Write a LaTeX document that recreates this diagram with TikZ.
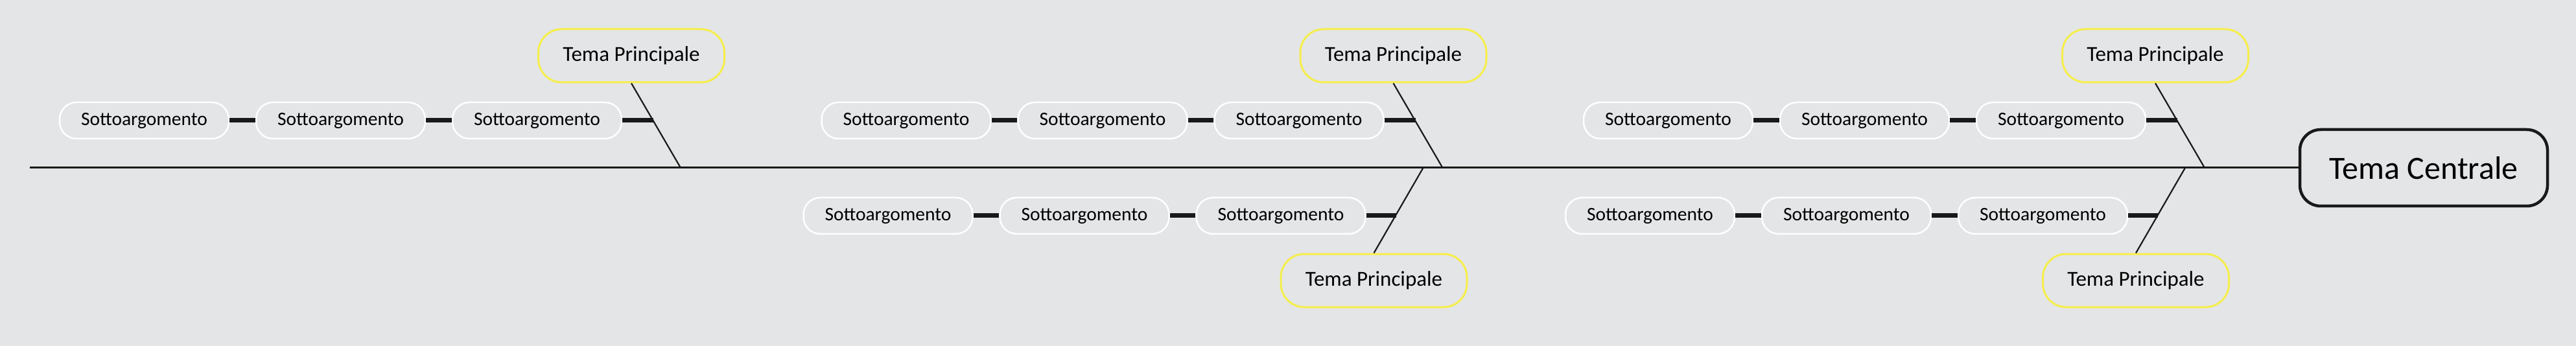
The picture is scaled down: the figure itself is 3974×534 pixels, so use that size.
\documentclass[tikz,border=0pt]{standalone}
\usepackage{fontspec}
\setmainfont{Carlito}
\definecolor{bg}{HTML}{E4E5E7}
\definecolor{yel}{HTML}{F5EE4A}
\begin{document}
\begin{tikzpicture}[x=1pt,y=-1pt,
  sub/.style={draw=white,line width=2.5pt,fill=bg,rounded corners=26pt,minimum width=261pt,minimum height=56pt,inner sep=0pt,font=\fontsize{29.5}{32}\selectfont},
  main/.style={draw=yel,line width=3pt,fill=bg,rounded corners=36pt,minimum width=287pt,minimum height=82pt,inner sep=0pt,font=\fontsize{33}{36}\selectfont},
  bone/.style={line width=2.2pt,black!90},
  link/.style={line width=7pt,black!90}]
\fill[bg] (0,0) rectangle (3974,534);
\node[draw=black!90,line width=4.5pt,fill=bg,rounded corners=32pt,minimum width=382pt,minimum height=118pt,inner sep=0pt,font=\fontsize{50}{54}\selectfont] (C) at (3739,259) {Tema Centrale};
\coordinate (S0) at (46,259);
\draw[line width=3pt,black!90] (S0) -- (C.west);
% top groups
\foreach \i/\sx in {1/1050,2/2225.5,3/3401}{
  \node[main] (T\i) at (\sx-76,86) {Tema Principale};
  \coordinate (TS\i) at (\sx,259);
  \coordinate (TJ\i) at (\sx-42,186);
  \draw[bone] (T\i.south) -- (TS\i);
  \node[sub] (Ta\i) at (\sx-827.5,186) {Sottoargomento};
  \node[sub] (Tb\i) at (\sx-524.5,186) {Sottoargomento};
  \node[sub] (Tc\i) at (\sx-221.5,186) {Sottoargomento};
  \draw[link] (Ta\i.east) -- (Tb\i.west);
  \draw[link] (Tb\i.east) -- (Tc\i.west);
  \draw[link] (Tc\i.east) -- (TJ\i);
}
% bottom groups
\foreach \i/\sx in {1/2195.5,2/3371}{
  \node[main] (B\i) at (\sx-76,433) {Tema Principale};
  \coordinate (BS\i) at (\sx,259);
  \coordinate (BJ\i) at (\sx-42,333);
  \draw[bone] (BS\i) -- (B\i.north);
  \node[sub] (Ba\i) at (\sx-825.5,333) {Sottoargomento};
  \node[sub] (Bb\i) at (\sx-522.5,333) {Sottoargomento};
  \node[sub] (Bc\i) at (\sx-219.5,333) {Sottoargomento};
  \draw[link] (Ba\i.east) -- (Bb\i.west);
  \draw[link] (Bb\i.east) -- (Bc\i.west);
  \draw[link] (Bc\i.east) -- (BJ\i);
}
\end{tikzpicture}
\end{document}
